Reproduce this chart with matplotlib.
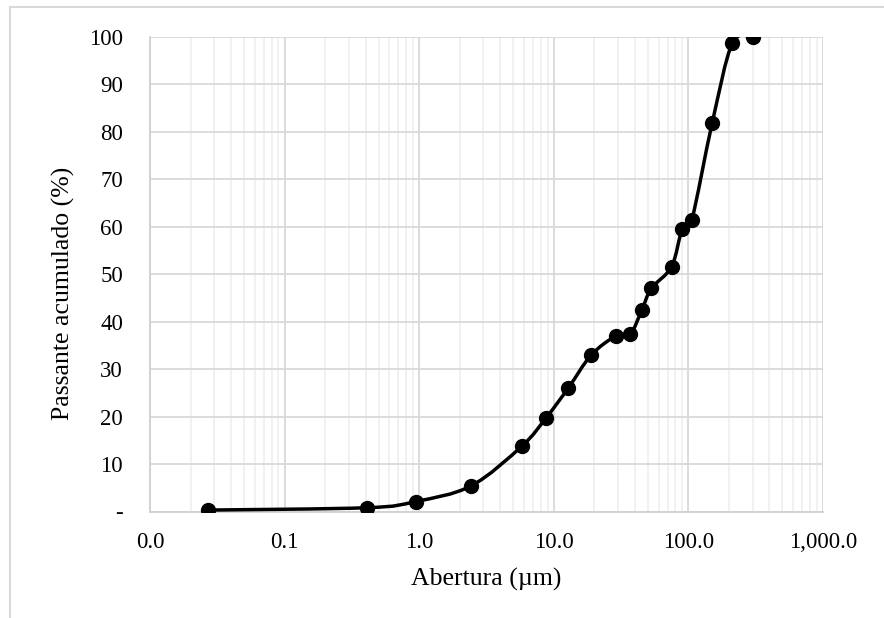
import numpy as np
import matplotlib.pyplot as plt
from matplotlib.path import Path
from matplotlib.patches import PathPatch, Rectangle
from matplotlib.ticker import FuncFormatter, FixedLocator

# Curva granulométrica (passante acumulado)
abertura = [0.027, 0.41, 0.94, 2.43, 5.8, 8.8, 12.8, 19, 29, 37, 45, 53, 75, 90, 106, 150, 212, 300]
passante = [0.3, 0.8, 2.1, 5.4, 13.8, 19.8, 26.0, 33.0, 37.0, 37.4, 42.4, 47.0, 51.6, 59.6, 61.5, 81.8, 98.7, 100]

plt.rcParams['font.family'] = ['Liberation Serif', 'DejaVu Serif']

fig = plt.figure(figsize=(8.84, 6.18), dpi=100)
ax = fig.add_axes([150 / 884, 1 - 511.5 / 618, 673 / 884, 474.5 / 618])

# borda externa do gráfico (estilo Excel)
fig.patches.append(Rectangle((10 / 884, -0.1), 1.0, 1 - 7 / 618 + 0.1, transform=fig.transFigure,
                             fill=False, edgecolor='#d9d9d9', linewidth=1.5))

# linha suavizada (Catmull-Rom em escala log, como no Excel)
lx = np.log10(abertura)
py = np.array(passante, dtype=float)
n = len(lx)
verts = [(abertura[0], py[0])]
codes = [Path.MOVETO]
for i in range(n - 1):
    i0 = max(i - 1, 0)
    i3 = min(i + 2, n - 1)
    c1x = lx[i] + (lx[i + 1] - lx[i0]) / 6
    c1y = py[i] + (py[i + 1] - py[i0]) / 6
    c2x = lx[i + 1] - (lx[i3] - lx[i]) / 6
    c2y = py[i + 1] - (py[i3] - py[i]) / 6
    verts += [(10 ** c1x, c1y), (10 ** c2x, c2y), (abertura[i + 1], py[i + 1])]
    codes += [Path.CURVE4] * 3
ax.add_patch(PathPatch(Path(verts, codes), facecolor='none', edgecolor='black', linewidth=2.5, zorder=3))
ax.plot(abertura, passante, linestyle='none', marker='o', markersize=10, color='black', zorder=4)

ax.set_xscale('log')
ax.set_xlim(0.01, 1000)
ax.set_ylim(0, 100)
ax.yaxis.set_major_locator(FixedLocator(np.arange(0, 101, 10)))
ax.xaxis.set_major_locator(FixedLocator([0.01, 0.1, 1, 10, 100, 1000]))
minors = [m * 10.0 ** e for e in range(-2, 3) for m in range(2, 10)]
ax.xaxis.set_minor_locator(FixedLocator(minors))
ax.xaxis.set_major_formatter(FuncFormatter(lambda v, p: '{:,.1f}'.format(v)))
ax.xaxis.set_minor_formatter(FuncFormatter(lambda v, p: ''))
ax.yaxis.set_major_formatter(FuncFormatter(lambda v, p: '-' if v == 0 else '{:d}'.format(int(v))))

ax.grid(which='major', color='#d9d9d9', linewidth=1.3)
ax.grid(which='minor', axis='x', color='#f0f0f0', linewidth=1.3)
ax.set_axisbelow(True)
for s in ['top', 'right']:
    ax.spines[s].set_visible(False)
for s in ['left', 'bottom']:
    ax.spines[s].set_color('#d0d0d0')
    ax.spines[s].set_linewidth(1.3)
ax.tick_params(which='both', length=0, labelsize=16.5, colors='black')
ax.tick_params(axis='y', pad=19.5)
ax.tick_params(axis='x', pad=15)

ax.set_xlabel('Abertura (µm)', fontsize=18.5, va='center')
ax.xaxis.set_label_coords(0.5, -0.144)
ax.set_ylabel('Passante acumulado (%)', fontsize=18.5, va='center')
ax.yaxis.set_label_coords(-0.129, 0.46)

fig.savefig('out.png', dpi=100)
